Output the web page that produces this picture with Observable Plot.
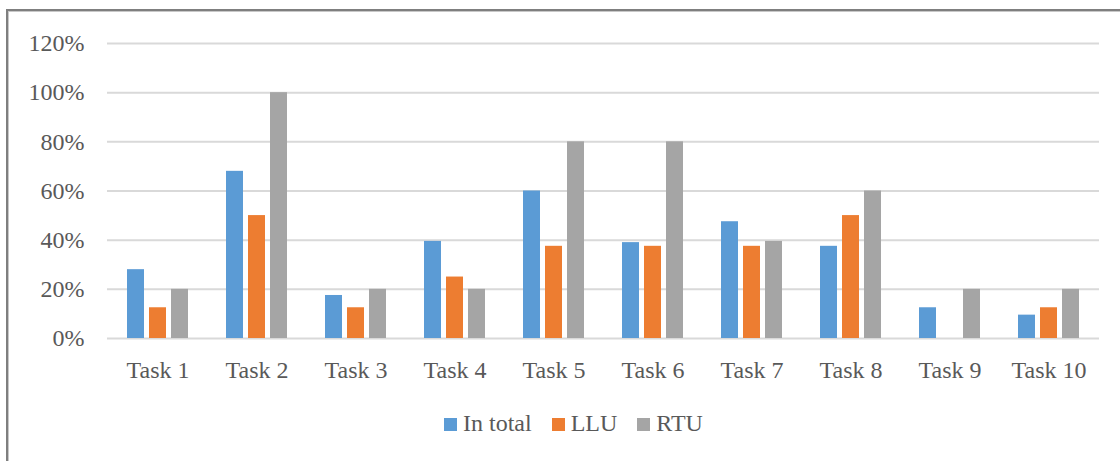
<!DOCTYPE html>
<html>
<head>
<meta charset="utf-8">
<script src="https://cdn.jsdelivr.net/npm/d3@7"></script>
<script src="https://cdn.jsdelivr.net/npm/@observablehq/plot@0.6"></script>
<style>
  html, body { margin: 0; padding: 0; background: #fff; }
  body { width: 1120px; height: 461px; position: relative; overflow: hidden; font-family: "Liberation Serif", "Times New Roman", serif; }
  #frame { position: absolute; left: 6px; top: 9px; width: 1200px; height: 500px; border-left: 2px solid #7f7f7f; border-top: 2px solid #7f7f7f; box-shadow: inset 1px 1px 0 #c8c8c8; }
  #grid, #chart { position: absolute; left: 0; top: 0; }
  #legend { position: absolute; left: 444px; top: 410px; display: flex; align-items: center; font-size: 24px; color: #595959; white-space: nowrap; }
  .item { display: flex; align-items: center; margin-right: 20px; }
  .sw { width: 13px; height: 13px; margin-right: 6px; margin-top: 2px; }
</style>
</head>
<body>
<div id="frame"></div>
<div id="grid"></div>
<div id="chart"></div>
<div id="legend"></div>
<script>
const tasks = ["Task 1","Task 2","Task 3","Task 4","Task 5","Task 6","Task 7","Task 8","Task 9","Task 10"];
const series = ["In total","LLU","RTU"];
const colors = ["#5B9BD5","#ED7D31","#A5A5A5"];
const inTotal = [28, 68, 17.5, 39.5, 60, 39, 47.5, 37.5, 12.5, 9.5];
const llu     = [12.5, 50, 12.5, 25, 37.5, 37.5, 37.5, 50, 0, 12.5];
const rtu     = [20, 100, 20, 20, 80, 80, 39.5, 60, 20, 20];
const yTicks  = [0, 20, 40, 60, 80, 100, 120];

const values = [inTotal, llu, rtu];
const data = [];
tasks.forEach((t, i) => series.forEach((s, j) => data.push({task: t, series: s, value: values[j][i]})));

const frame = {width: 1120, height: 400, marginTop: 43, marginBottom: 62, marginLeft: 107, marginRight: 21};
const font = {fontSize: "24px", fontFamily: "'Liberation Serif', 'Times New Roman', serif", color: "#595959", background: "transparent"};

// gridlines and y axis spanning the full plot width (drawn beneath the faceted bars)
const grid = Plot.plot({
  ...frame,
  style: font,
  x: {axis: null},
  y: {domain: [0, 120], axis: null},
  marks: [
    Plot.ruleY(yTicks, {stroke: "#d9d9d9", strokeWidth: 2}),
    Plot.axisY(yTicks, {tickFormat: d => d + "%", tickSize: 0, tickPadding: 0, dx: -23, label: null})
  ]
});
document.getElementById("grid").appendChild(grid);

const chart = Plot.plot({
  ...frame,
  style: font,
  fx: {domain: tasks, paddingInner: 0.364, paddingOuter: 0.182, label: null, tickSize: 0, tickPadding: 22},
  x: {domain: series, axis: null, paddingInner: 0.22, paddingOuter: 0},
  y: {domain: [0, 120], axis: null},
  color: {domain: series, range: colors},
  marks: [
    Plot.barY(data, {fx: "task", x: "series", y: "value", fill: "series"})
  ]
});
document.getElementById("chart").appendChild(chart);

const legend = d3.select("#legend");
series.forEach((s, j) => {
  const it = legend.append("div").attr("class", "item");
  it.append("div").attr("class", "sw").style("background", colors[j]);
  it.append("span").text(s);
});
</script>
</body>
</html>
